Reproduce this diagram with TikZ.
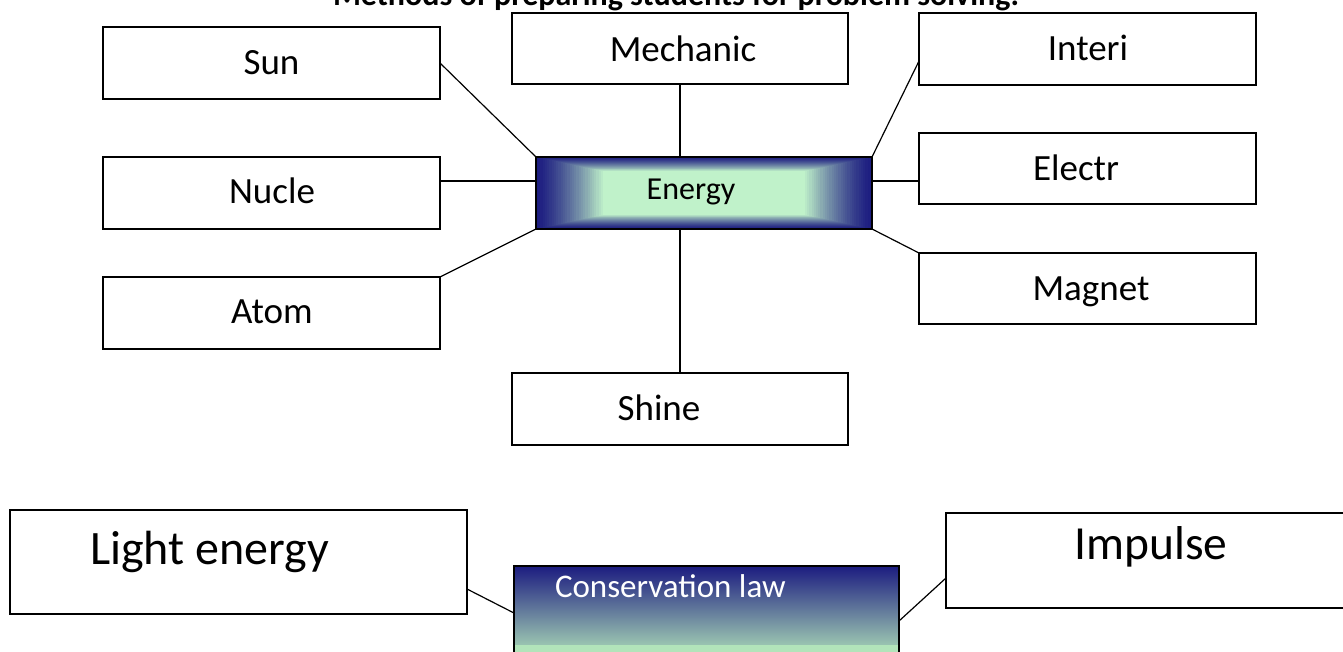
\documentclass[tikz,border=0pt]{standalone}
\usepackage{fontspec}
\setmainfont{Carlito}
\usetikzlibrary{calc}
\definecolor{enavy}{RGB}{28,28,128}
\definecolor{eglight}{RGB}{192,242,202}
\definecolor{cgreen}{RGB}{178,228,186}
\tikzset{
  box/.style={draw, line width=1.7pt, rectangle, inner sep=0pt, outer sep=0pt, fill=white},
  conn/.style={draw, line width=1.2pt},
  lbl/.style={inner sep=0pt, outer sep=0pt, anchor=base, font=\fontsize{37}{44}\selectfont},
  ebox/.style={draw, line width=1.8pt, rectangle, inner sep=0pt, outer sep=0pt,
    minimum width=336pt, minimum height=72pt,
    path picture={
      \foreach \i in {0,...,30}{
        \pgfmathsetmacro{\f}{0.2*\i/30}
        \pgfmathsetmacro{\p}{100*(\i/30)^1.3}
        \fill[eglight!\p!enavy]
          ($(path picture bounding box.south west)!\f!(path picture bounding box.north east)$)
          rectangle
          ($(path picture bounding box.north east)!\f!(path picture bounding box.south west)$);
      }
    }},
  cbox/.style={draw, line width=1.4pt, rectangle, inner sep=0pt, outer sep=0pt, fill=cgreen,
    path picture={
      \shade[top color=enavy, bottom color=cgreen]
        (path picture bounding box.north west) rectangle ($(path picture bounding box.north east)+(0,78)$);
    }},
}
\begin{document}
\begin{tikzpicture}[x=1pt, y=-1pt]
\useasboundingbox (0,0) rectangle (1343,651);
% title (cut at the top, as in the reference)
\node[inner sep=0pt, anchor=base, font=\bfseries\fontsize{32}{38}\selectfont] (title) at (676,5.5) {Methods of preparing students for problem solving.};
% boxes
\node[box, minimum width=337pt, minimum height=72pt] (sun) at (271.5,63) {};
\node[box, minimum width=336pt, minimum height=71pt] (mech) at (680,48.5) {};
\node[box, minimum width=337pt, minimum height=72pt] (interi) at (1087.5,49) {};
\node[box, minimum width=337pt, minimum height=72pt] (nucle) at (271.5,193) {};
\node[ebox] (energy) at (704,193) {};
\node[box, minimum width=337pt, minimum height=71pt] (electr) at (1087.5,168.5) {};
\node[box, minimum width=337pt, minimum height=72pt] (atom) at (271.5,313) {};
\node[box, minimum width=337pt, minimum height=71pt] (magnet) at (1087.5,288.5) {};
\node[box, minimum width=336pt, minimum height=72pt] (shine) at (680,409) {};
\node[box, minimum width=457pt, minimum height=104pt] (light) at (238.5,562) {};
\node[box, minimum width=414pt, minimum height=95pt] (impulse) at (1153,560.5) {};
\node[cbox, minimum width=385pt, minimum height=94pt] (cons) at (706.5,613) {};
% labels
\node[lbl] (tsun) at (271.5,74) {Sun};
\node[lbl] (tmech) at (683,61) {Mechanic};
\node[lbl] (tinteri) at (1088,60) {Interi};
\node[lbl] (tnucle) at (272,203) {Nucle};
\node[lbl] (telectr) at (1076,180) {Electr};
\node[lbl] (tatom) at (272,323) {Atom};
\node[lbl] (tmagnet) at (1091,300) {Magnet};
\node[lbl, font=\fontsize{32}{38}\selectfont] (tenergy) at (691,199) {Energy};
\node[lbl] (tshine) at (659,420) {Shine};
\node[lbl, anchor=base west, font=\fontsize{48}{57}\selectfont] (tlight) at (90,564) {Light energy};
\node[lbl, font=\fontsize{47.5}{57}\selectfont] (timpulse) at (1151,559) {Impulse};
\node[lbl, anchor=base west, text=white, font=\fontsize{33}{40}\selectfont] (tcons) at (555,597) {Conservation law};
% connectors
\draw[conn] (sun.east) -- (energy.north west);
\draw[conn] ([yshift=12pt]nucle.east) -- ([yshift=12pt]energy.west);
\draw[conn] (atom.north east) -- (energy.south west);
\draw[conn] (mech.south) -- (mech.south |- energy.north);
\draw[conn] (shine.north) -- (shine.north |- energy.south);
\draw[conn] (energy.north east) -- ([yshift=-12pt]interi.west);
\draw[conn] ([yshift=12pt]energy.east) -- ([yshift=-12.5pt]electr.west);
\draw[conn] (energy.south east) -- (magnet.north west);
\draw[conn] ([yshift=-27pt]light.east) -- (cons.west);
\draw[conn] ([yshift=-8pt]cons.east) -- ([yshift=-17.5pt]impulse.west);
\end{tikzpicture}
\end{document}
